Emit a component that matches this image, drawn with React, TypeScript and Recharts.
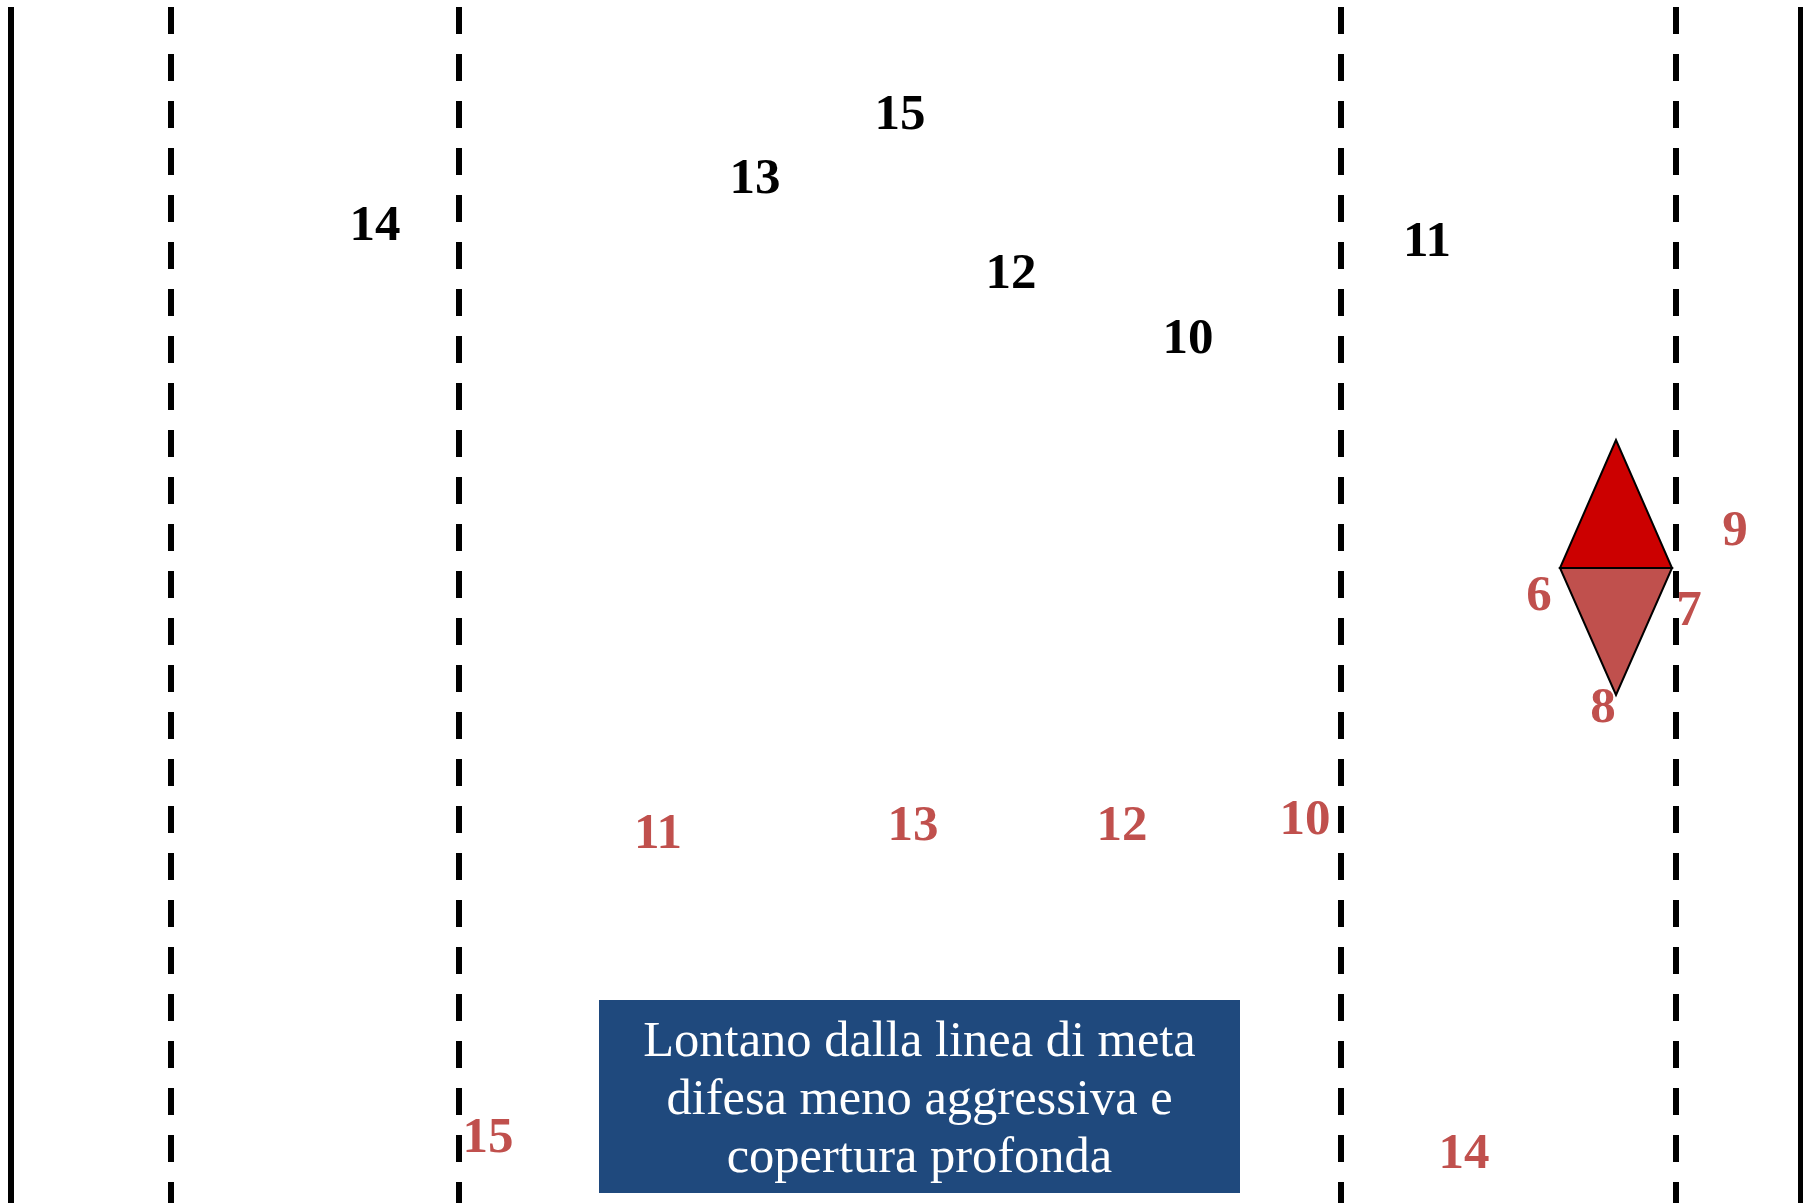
import React from "react";
import {
  ScatterChart,
  Scatter,
  XAxis,
  YAxis,
  ReferenceLine,
  ReferenceArea,
} from "recharts";

const W = 1803;
const H = 1203;

// field coordinates, measured from top-left of the diagram
const sideLines = [11, 1801];
const laneLines = [171, 459, 1341, 1676];

const attack = [
  { n: "15", x: 900, y: 112 },
  { n: "13", x: 755, y: 176 },
  { n: "14", x: 375, y: 223 },
  { n: "12", x: 1011, y: 271 },
  { n: "10", x: 1188, y: 336 },
  { n: "11", x: 1427, y: 239 },
];

const defence = [
  { n: "11", x: 658, y: 831 },
  { n: "13", x: 913, y: 823 },
  { n: "12", x: 1122, y: 823 },
  { n: "10", x: 1305, y: 817 },
  { n: "15", x: 488, y: 1135 },
  { n: "14", x: 1464, y: 1151 },
  { n: "9", x: 1735, y: 528 },
  { n: "6", x: 1539, y: 593 },
  { n: "7", x: 1689, y: 608 },
  { n: "8", x: 1603, y: 705 },
];

const topTriangle = [
  { x: 1616, y: 440 },
  { x: 1560, y: 568 },
  { x: 1672, y: 568 },
];
const bottomTriangle = [
  { x: 1560, y: 568 },
  { x: 1672, y: 568 },
  { x: 1616, y: 695 },
];

const boxLines = [
  "Lontano dalla linea di meta",
  "difesa meno aggressiva e",
  "copertura profonda",
];

const serif = "'Liberation Serif', 'DejaVu Serif', serif";
const NUM_SIZE = 51;

function makeLabel(color: string) {
  return (props: any) => (
    <text
      x={props.cx}
      y={props.cy + NUM_SIZE * 0.338}
      textAnchor="middle"
      fontFamily={serif}
      fontWeight="bold"
      fontSize={NUM_SIZE}
      fill={color}
    >
      {props.payload.n}
    </text>
  );
}

function makePolygon(fill: string) {
  return (props: any) => (
    <polygon
      points={(props.points || []).map((p: any) => `${p.x},${p.y}`).join(" ")}
      fill={fill}
      stroke="#000"
      strokeWidth={2}
      strokeLinejoin="miter"
    />
  );
}

function BoxText(props: any) {
  const vb = props.viewBox;
  if (!vb) return null;
  const cx = vb.x + vb.width / 2;
  return (
    <text textAnchor="middle" fontFamily={serif} fontSize={50.5} fill="#fff">
      {boxLines.map((line, i) => (
        <tspan key={i} x={cx} y={vb.y + 56 + i * 58}>
          {line}
        </tspan>
      ))}
    </text>
  );
}

export default function App() {
  return (
    <div
      style={{
        position: "absolute",
        left: 0,
        top: 0,
        width: W,
        height: H,
        background: "#fff",
      }}
    >
      <ScatterChart
        width={W}
        height={H}
        margin={{ top: 0, right: 0, bottom: 0, left: 0 }}
      >
        <XAxis type="number" dataKey="x" domain={[0, W]} hide />
        <YAxis type="number" dataKey="y" domain={[0, H]} reversed hide />

        {sideLines.map((x) => (
          <ReferenceLine
            key={"s" + x}
            segment={[
              { x, y: 7 },
              { x, y: H },
            ]}
            stroke="#000"
            strokeWidth={6}
          />
        ))}
        {laneLines.map((x) => (
          <ReferenceLine
            key={"d" + x}
            segment={[
              { x, y: 7 },
              { x, y: H },
            ]}
            stroke="#000"
            strokeWidth={6}
            strokeDasharray="27 20"
          />
        ))}

        <ReferenceArea
          x1={599}
          x2={1240}
          y1={1000}
          y2={1193}
          fill="#1F497D"
          fillOpacity={1}
          stroke="none"
          label={BoxText}
        />

        <Scatter
          data={topTriangle}
          shape={() => <g />}
          line={makePolygon("#CC0000")}
          isAnimationActive={false}
        />
        <Scatter
          data={bottomTriangle}
          shape={() => <g />}
          line={makePolygon("#C0504D")}
          isAnimationActive={false}
        />

        <Scatter
          data={attack}
          shape={makeLabel("#000")}
          isAnimationActive={false}
        />
        <Scatter
          data={defence}
          shape={makeLabel("#C0504D")}
          isAnimationActive={false}
        />
      </ScatterChart>
    </div>
  );
}
